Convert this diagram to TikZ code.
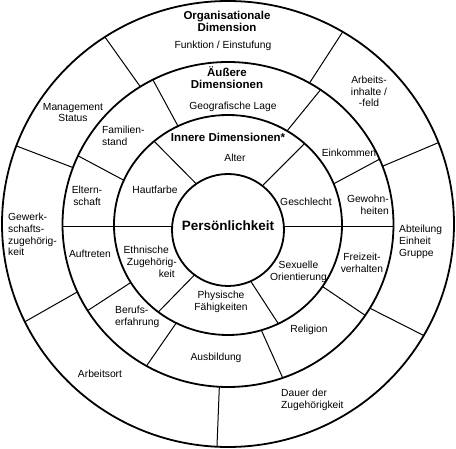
\documentclass[tikz,border=0pt]{standalone}
\usepackage{fontspec}
\setmainfont{Liberation Sans}
\usetikzlibrary{calc}
\begin{document}
\begin{tikzpicture}[x=1pt,y=-1pt,
  ring/.style={line width=1.8pt},
  divider/.style={line width=1pt},
  lbl/.style={font=\fontsize{10.3}{11.8}\selectfont, align=center, inner sep=0pt},
  ttl/.style={font=\fontsize{11.5}{12}\selectfont\bfseries, align=center, inner sep=0pt}]
\useasboundingbox (0,0) rectangle (456,449);
\coordinate (c1) at (228,224);
\coordinate (c2) at (228,224.5);
\coordinate (c3) at (228,225);
\coordinate (c4) at (228,230);
% rings
\draw[ring] (c1) ellipse [x radius=226pt, y radius=223pt];
\draw[ring] (c2) ellipse [x radius=165.5pt, y radius=162.5pt];
\draw[ring] (c3) ellipse [x radius=114pt, y radius=110pt];
\draw[ring] (c4) circle [radius=56pt];
% outer ring dividers
\draw[divider] ($(c2)+(-122:165.5 and 162.5)$) -- ($(c1)+(-123:226 and 223)$);
\draw[divider] ($(c2)+(-159.5:165.5 and 162.5)$) -- ($(c1)+(-159.5:226 and 223)$);
\draw[divider] ($(c2)+(155.5:165.5 and 162.5)$) -- ($(c1)+(154:226 and 223)$);
\draw[divider] ($(c2)+(93:165.5 and 162.5)$) -- ($(c1)+(92.8:226 and 223)$);
\draw[divider] ($(c2)+(31:165.5 and 162.5)$) -- ($(c1)+(30:226 and 223)$);
\draw[divider] ($(c2)+(-21:165.5 and 162.5)$) -- ($(c1)+(-21.4:226 and 223)$);
\draw[divider] ($(c2)+(-60.5:165.5 and 162.5)$) -- ($(c1)+(-59.5:226 and 223)$);
% middle ring dividers
\draw[divider] ($(c3)+(-116:114 and 110)$) -- ($(c2)+(-117:165.5 and 162.5)$);
\draw[divider] ($(c3)+(-156:114 and 110)$) -- ($(c2)+(-155:165.5 and 162.5)$);
\draw[divider] ($(c3)+(148.5:114 and 110)$) -- ($(c2)+(148:165.5 and 162.5)$);
\draw[divider] ($(c3)+(117:114 and 110)$) -- ($(c2)+(119.5:165.5 and 162.5)$);
\draw[divider] ($(c3)+(73:114 and 110)$) -- ($(c2)+(70.7:165.5 and 162.5)$);
\draw[divider] ($(c3)+(34:114 and 110)$) -- ($(c2)+(34:165.5 and 162.5)$);
\draw[divider] ($(c3)+(-22:114 and 110)$) -- ($(c2)+(-23.7:165.5 and 162.5)$);
\draw[divider] ($(c3)+(-58.8:114 and 110)$) -- ($(c2)+(-56:165.5 and 162.5)$);
% inner ring dividers
\draw[divider] ($(c4)+(-124.5:56 and 56)$) -- ($(c3)+(-130.4:114 and 110)$);
\draw[divider] ($(c4)+(-52.1:56 and 56)$) -- ($(c3)+(-47.8:114 and 110)$);
\draw[divider] ($(c4)+(126.7:56 and 56)$) -- ($(c3)+(127.7:114 and 110)$);
\draw[divider] ($(c4)+(66.1:56 and 56)$) -- ($(c3)+(63.8:114 and 110)$);
% horizontal dividers
\coordinate (hl1) at (62.5,227);
\coordinate (hl2) at (172.1,227);
\coordinate (hr1) at (283.9,227);
\coordinate (hr2) at (393.5,227);
\draw[divider] (hl1) -- (hl2);
\draw[divider] (hr1) -- (hr2);
% titles
\node[ttl] (org) at (227,21) {Organisationale\\Dimension};
\node[ttl] (aus) at (227,77.5) {Äußere\\Dimensionen};
\node[ttl] (inn) at (228,137) {Innere Dimensionen*};
\node[font=\fontsize{13.5}{14}\selectfont\bfseries, inner sep=0pt] (pers) at (228,226) {Persönlichkeit};
% labels
\node[lbl] (funk) at (223,46) {Funktion / Einstufung};
\node[lbl] (geo) at (233,107) {Geografische Lage};
\node[lbl] (alter) at (235,158) {Alter};
\node[lbl] (mgmt) at (73,112.5) {Management\\Status};
\node[lbl, align=left, anchor=west] (fam) at (102,136) {Familien-\\stand};
\node[lbl] (eltern) at (87,196) {Eltern-\\schaft};
\node[lbl] (haut) at (155,190) {Hautfarbe};
\node[lbl, align=left, anchor=west] (gew) at (8,234.5) {Gewerk-\\schafts-\\zugehörig-\\keit};
\node[lbl] (arb) at (369,91.5) {Arbeits-\\inhalte /\\-feld};
\node[lbl] (eink) at (349,153) {Einkommen};
\node[lbl] (geschl) at (306,202) {Geschlecht};
\node[lbl, align=right, anchor=east] (gewohn) at (389,205) {Gewohn-\\heiten};
\node[lbl, align=left, anchor=west] (abt) at (399,242) {Abteilung\\Einheit\\Gruppe};
\node[lbl] (frei) at (362,262.5) {Freizeit-\\verhalten};
\node[lbl] (sex) at (298.5,272) {Sexuelle\\Orientierung};
\node[lbl] (rel) at (309,330) {Religion};
\node[lbl] (phys) at (221,302) {Physische\\Fähigkeiten};
\node[lbl] (ausb) at (216,358) {Ausbildung};
\node[lbl, align=right, anchor=east] (eth) at (177,262) {Ethnische\hspace*{8pt}\\Zugehörig-\\keit\hspace*{2pt}};
\node[lbl] (auft) at (90,254) {Auftreten};
\node[lbl, align=left, anchor=west] (beruf) at (115,317) {Berufs-\\erfahrung};
\node[lbl] (ort) at (100,374) {Arbeitsort};
\node[lbl, align=left, anchor=west] (dauer) at (281,399.5) {Dauer der\\Zugehörigkeit};
\end{tikzpicture}
\end{document}
